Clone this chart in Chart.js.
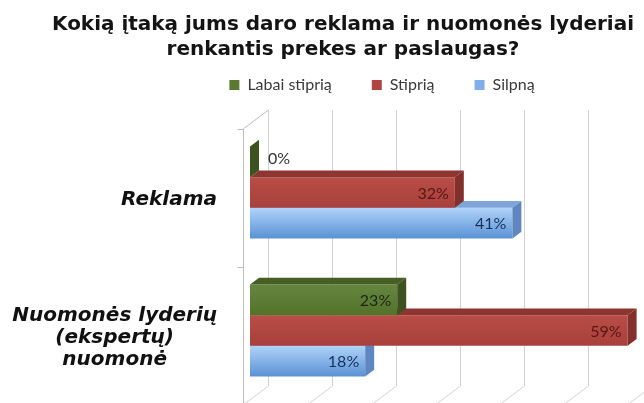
<!DOCTYPE html>
<html>
<head>
<meta charset="utf-8">
<script src="https://cdn.jsdelivr.net/npm/chart.js@4/dist/chart.umd.min.js"></script>
<style>
html,body{margin:0;padding:0;background:#ffffff;}
canvas{display:block;}
</style>
</head>
<body>
<canvas id="c" width="644" height="403"></canvas>
<script>
// ---- data ----
const titleLines = ['Kokią įtaką jums daro reklama ir nuomonės lyderiai', 'renkantis prekes ar paslaugas?'];
const categories = [['Reklama'], ['Nuomonės lyderių', '(ekspertų)', 'nuomonė']];
const seriesNames = ['Labai stiprią', 'Stiprią', 'Silpną'];
const labaiStipria = [0, 23];
const stipria = [32, 59];
const silpna = [41, 18];
const xTicks = [0, 10, 20, 30, 40, 50, 60];

// ---- styles ----
const STYLE = [
  {legend:'#5b7a31', front:['#668640','#53732b'], top:'#465f25', side:'#3c5320', label:'#1c2611'},
  {legend:'#b0443f', front:['#b94d47','#a9403b'], top:'#8e3531', side:'#83302c', label:'#561714'},
  {legend:'#7fb0ea', front:['#b0d3f9','#5a91d5'], top:'#7ea5d9', side:'#5f87bf', label:'#16315c'}
];
const DEPTH = {dx: 9, dy: -6.75};
const WALL_BACK = {dx: 18, dy: -13.5};
const WALL_FRONT = {dx: -7, dy: 5.25};

function poly(ctx, pts, fill) {
  ctx.beginPath();
  ctx.moveTo(pts[0][0], pts[0][1]);
  for (let i = 1; i < pts.length; i++) ctx.lineTo(pts[i][0], pts[i][1]);
  ctx.closePath();
  ctx.fillStyle = fill;
  ctx.fill();
}
function line(ctx, pts) {
  ctx.beginPath();
  ctx.moveTo(pts[0][0], pts[0][1]);
  for (let i = 1; i < pts.length; i++) ctx.lineTo(pts[i][0], pts[i][1]);
  ctx.stroke();
}

const pseudo3d = {
  id: 'pseudo3d',
  afterLayout(chart) {
    const lg = chart.legend;
    const shift = 382 - (lg.left + lg.right) / 2;
    lg.left += shift; lg.right += shift;
    const h = lg.bottom - lg.top;
    lg.top = 37; lg.bottom = 37 + h;
  },
  beforeDatasetsDraw(chart) {
    const ctx = chart.ctx, xs = chart.scales.x, ys = chart.scales.y, a = chart.chartArea;
    ctx.save();
    ctx.lineWidth = 1;
    ctx.strokeStyle = '#d2d2d2';
    xTicks.forEach(v => {
      const x = Math.round(xs.getPixelForValue(v)) + 0.5;
      line(ctx, [[x + WALL_BACK.dx, a.top + WALL_BACK.dy], [x + WALL_BACK.dx, a.bottom + WALL_BACK.dy], [x + WALL_FRONT.dx, a.bottom + WALL_FRONT.dy]]);
    });
    ctx.strokeStyle = '#bdbdbd';
    const x0 = Math.round(xs.getPixelForValue(0)) + 0.5;
    line(ctx, [[x0 + WALL_BACK.dx, a.top + WALL_BACK.dy], [x0 + WALL_FRONT.dx, a.top + WALL_FRONT.dy], [x0 + WALL_FRONT.dx, a.bottom + WALL_FRONT.dy]]);
    for (let k = 0; k <= categories.length; k++) {
      const y = Math.round(ys.getPixelForValue(k - 0.5) + WALL_FRONT.dy) + 0.5;
      line(ctx, [[x0 + WALL_FRONT.dx - 6, y], [x0 + WALL_FRONT.dx, y]]);
    }
    ctx.restore();
  },
  beforeDatasetDraw(chart, args) {
    const ctx = chart.ctx, st = STYLE[args.index];
    args.meta.data.forEach(el => {
      const {y, height} = el.getProps(['y', 'height'], true);
      const g = ctx.createLinearGradient(0, y - height / 2, 0, y + height / 2);
      g.addColorStop(0, st.front[0]);
      g.addColorStop(1, st.front[1]);
      el.options = Object.assign({}, el.options, {backgroundColor: g});
    });
  },
  afterDatasetDraw(chart, args) {
    const ctx = chart.ctx, st = STYLE[args.index];
    ctx.save();
    args.meta.data.forEach(el => {
      const {x, y, base, height} = el.getProps(['x', 'y', 'base', 'height'], true);
      const t = y - height / 2, b = y + height / 2;
      const x1 = Math.max(x, base);
      if (x1 > base) {
        poly(ctx, [[base, t], [x1, t], [x1 + DEPTH.dx, t + DEPTH.dy], [base + DEPTH.dx, t + DEPTH.dy]], st.top);
      }
      poly(ctx, [[x1, t], [x1 + DEPTH.dx, t + DEPTH.dy], [x1 + DEPTH.dx, b + DEPTH.dy], [x1, b]], st.side);
    });
    ctx.restore();
  },
  afterDatasetsDraw(chart) {
    const ctx = chart.ctx;
    ctx.save();
    ctx.font = '16px Lato';
    ctx.textBaseline = 'middle';
    chart.data.datasets.forEach((ds, di) => {
      const meta = chart.getDatasetMeta(di);
      meta.data.forEach((el, i) => {
        const v = ds.data[i];
        const {x, y, base} = el.getProps(['x', 'y', 'base'], true);
        const txt = v + '%';
        if (x - base > 30) {
          ctx.textAlign = 'right';
          ctx.fillStyle = STYLE[di].label;
          ctx.fillText(txt, x - 6, y + 1);
        } else {
          ctx.textAlign = 'left';
          ctx.fillStyle = '#333333';
          ctx.fillText(txt, Math.max(x, base) + DEPTH.dx + 9, y + DEPTH.dy / 2);
        }
      });
    });
    ctx.restore();
  },
  afterDraw(chart) {
    const ctx = chart.ctx, ys = chart.scales.y, xs = chart.scales.x;
    ctx.save();
    ctx.font = 'italic bold 20px "DejaVu Sans"';
    ctx.fillStyle = '#111111';
    ctx.textBaseline = 'middle';
    ctx.textAlign = 'center';
    const right = xs.getPixelForValue(0) + WALL_FRONT.dx - 26;
    const lh = 22;
    categories.forEach((lines, i) => {
      const w = Math.max(...lines.map(s => ctx.measureText(s).width));
      const cx = right - w / 2;
      const cy = ys.getPixelForValue(i) + 7;
      lines.forEach((s, j) => {
        ctx.fillText(s, cx, cy + (j - (lines.length - 1) / 2) * lh);
      });
    });
    ctx.restore();
  }
};

const seriesData = [labaiStipria, stipria, silpna];
new Chart(document.getElementById('c'), {
  type: 'bar',
  data: {
    labels: categories,
    datasets: seriesNames.map((n, i) => ({
      label: n,
      data: seriesData[i],
      backgroundColor: STYLE[i].legend,
      borderWidth: 0,
      categoryPercentage: 0.667,
      barPercentage: 1
    }))
  },
  options: {
    indexAxis: 'y',
    responsive: false,
    animation: false,
    devicePixelRatio: 1,
    layout: {padding: {left: 52, right: 10, top: 0, bottom: 3.5}},
    scales: {
      x: {min: 0, max: 60, display: false},
      y: {
        display: true,
        grid: {display: false},
        border: {display: false},
        ticks: {display: false},
        afterFit(s) { s.width = 198; }
      }
    },
    plugins: {
      title: {
        display: true,
        text: titleLines,
        color: '#141414',
        font: {family: '"DejaVu Sans"', weight: 'bold', size: 20, lineHeight: 1.25},
        padding: {top: 12.5, bottom: -5}
      },
      legend: {
        display: true,
        position: 'top',
        labels: {
          boxWidth: 10,
          boxHeight: 10,
          padding: 40,
          color: '#3a3a3a',
          font: {family: 'Lato', size: 16}
        }
      },
      tooltip: {enabled: false}
    }
  },
  plugins: [pseudo3d]
});
</script>
</body>
</html>
